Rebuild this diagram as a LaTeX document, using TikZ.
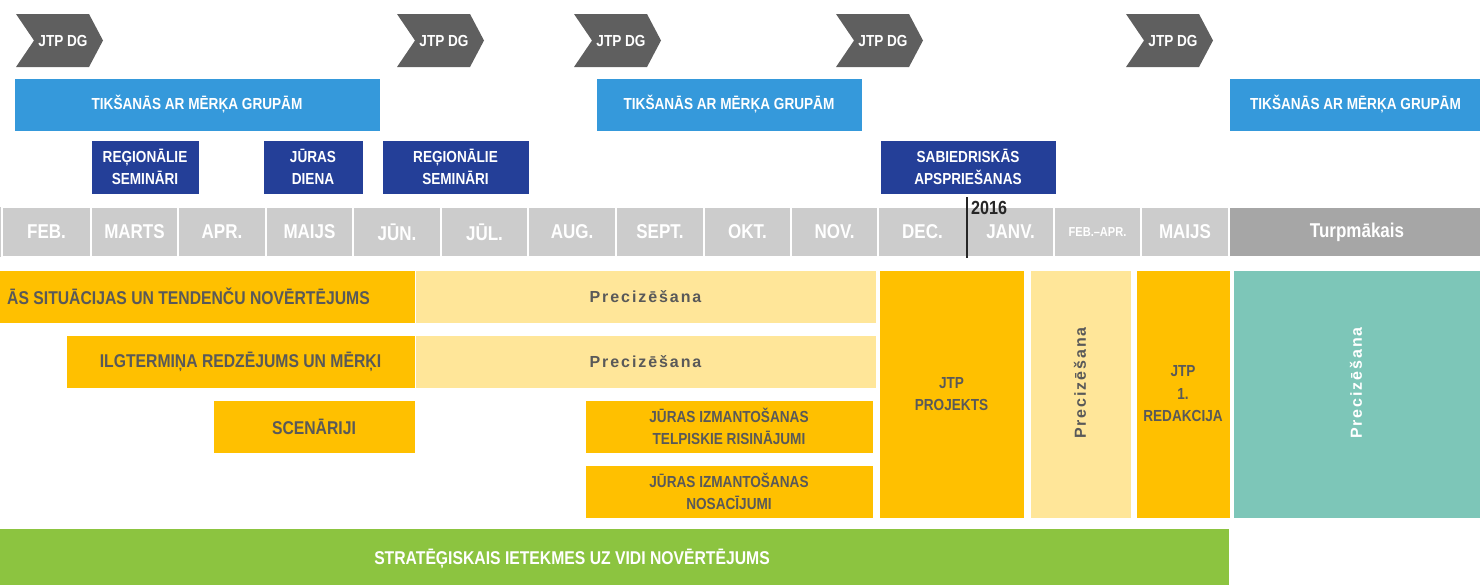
\documentclass[tikz,border=0pt]{standalone}
\usepackage{fontspec}
\setmainfont{Liberation Sans}
\newfontfamily\cnd{Liberation Sans}[FakeStretch=0.85]
\newfontfamily\spc{Liberation Sans}[LetterSpace=12]
\definecolor{chevc}{HTML}{5F5F5F}
\definecolor{lblue}{HTML}{3599DB}
\definecolor{dblue}{HTML}{243F98}
\definecolor{mgray}{HTML}{CCCCCC}
\definecolor{tgray}{HTML}{A6A6A6}
\definecolor{orng}{HTML}{FFC000}
\definecolor{lyel}{HTML}{FFE699}
\definecolor{teal}{HTML}{7DC6B8}
\definecolor{grn}{HTML}{8CC440}
\definecolor{tg}{HTML}{595959}
\tikzset{
  bxs/.style={inner sep=0pt, align=center, draw=white, line width=0.8pt},
  chevt/.style={text=white, font=\cnd\bfseries\fontsize{16}{20}\selectfont},
  tbar/.style={bxs, fill=lblue, text=white, font=\cnd\bfseries\fontsize{16}{20}\selectfont},
  dbox/.style={bxs, fill=dblue, text=white, font=\cnd\bfseries\fontsize{16}{22.5}\selectfont},
  mcell/.style={bxs, fill=mgray, line width=1.5pt, text=white, font=\cnd\bfseries\fontsize{20}{24}\selectfont},
  obox/.style={bxs, fill=orng, text=tg, font=\cnd\bfseries\fontsize{18.5}{22}\selectfont},
  sbox/.style={bxs, fill=orng, text=tg, font=\cnd\bfseries\fontsize{16}{22.5}\selectfont},
  pbox/.style={bxs, fill=lyel, text=tg, font=\spc\bfseries\fontsize{16}{18}\selectfont},
  vtext/.style={rotate=90, font=\spc\bfseries\fontsize{16}{18}\selectfont},
}
\newcommand\bx[7]{%
  \pgfmathsetmacro\bw{#4-#2}\pgfmathsetmacro\bh{#5-#3}%
  \node[#6, minimum width=\bw pt, minimum height=\bh pt] (#1) at ({(#2+#4)/2},{(#3+#5)/2}) {#7};}
\newcommand\chev[2]{%
  \fill[chevc] (#2,14) -- ({#2+73},14) -- ({#2+87},40.5) -- ({#2+73},67) -- (#2,67) -- ({#2+18},40.5) -- cycle;
  \node[chevt] (#1) at ({#2+47},41) {JTP DG};}
\begin{document}
\begin{tikzpicture}[x=1pt,y=-1pt]
\useasboundingbox (0,0) rectangle (1480,584);
% chevrons
\chev{c1}{16}
\chev{c2}{397}
\chev{c3}{574}
\chev{c4}{836}
\chev{c5}{1126}
% target group meetings
\bx{tb1}{14}{78}{380}{131}{tbar}{TIKŠANĀS AR MĒRĶA GRUPĀM}
\bx{tb2}{596}{78}{862}{131}{tbar}{TIKŠANĀS AR MĒRĶA GRUPĀM}
\bx{tb3}{1229}{78}{1482}{131}{tbar}{TIKŠANĀS AR MĒRĶA GRUPĀM}
% dark boxes
\bx{rs1}{91}{140}{199}{194}{dbox}{REĢIONĀLIE\\SEMINĀRI}
\bx{jd}{263}{140}{363}{194}{dbox}{JŪRAS\\DIENA}
\bx{rs2}{382}{140}{529}{194}{dbox}{REĢIONĀLIE\\SEMINĀRI}
\bx{sa}{880}{140}{1056}{194}{dbox}{SABIEDRISKĀS\\APSPRIEŠANAS}
% months
\fill[mgray] (-5,207) rectangle (1.5,257);
\bx{m1}{2}{207}{91}{257}{mcell}{FEB.}
\bx{m2}{91}{207}{178}{257}{mcell}{MARTS}
\bx{m3}{178}{207}{266}{257}{mcell}{APR.}
\bx{m4}{266}{207}{353}{257}{mcell}{MAIJS}
\bx{m5}{353}{207}{441}{257}{mcell}{JŪN.}
\bx{m6}{441}{207}{528}{257}{mcell}{JŪL.}
\bx{m7}{528}{207}{616}{257}{mcell}{AUG.}
\bx{m8}{616}{207}{704}{257}{mcell}{SEPT.}
\bx{m9}{704}{207}{791}{257}{mcell}{OKT.}
\bx{m10}{791}{207}{878}{257}{mcell}{NOV.}
\bx{m11}{878}{207}{967}{257}{mcell}{DEC.}
\bx{m12}{967}{207}{1054}{257}{mcell}{JANV.}
\bx{m13}{1054}{207}{1141}{257}{mcell, font=\cnd\bfseries\fontsize{13}{16}\selectfont}{FEB.–APR.}
\bx{m14}{1141}{207}{1229}{257}{mcell}{MAIJS}
\bx{m15}{1229}{207}{1485}{257}{mcell, fill=tgray}{Turpmākais}
\draw[line width=2pt, black!85] (967,197) coordinate (ya) -- (967,258) coordinate (yb);
\node[anchor=south west, inner sep=0pt, text=black!85, font=\cnd\bfseries\fontsize{19}{20}\selectfont] (y16) at (971,215) {2016};
% rows
\bx{a1}{-5}{270}{415}{323}{obox}{}
\node[anchor=east, inner sep=0pt, text=tg, font=\cnd\bfseries\fontsize{18.5}{22}\selectfont] (l1) at (370,296.5) {ĀS SITUĀCIJAS UN TENDENČU NOVĒRTĒJUMS};
\bx{p1}{415}{270}{876}{323}{pbox}{Precizēšana}
\bx{a2}{66}{335}{415}{388}{obox}{ILGTERMIŅA REDZĒJUMS UN MĒRĶI}
\bx{p2}{415}{335}{876}{388}{pbox}{Precizēšana}
\bx{sc}{213}{400}{415}{453}{obox}{SCENĀRIJI}
\bx{jt}{585}{400}{873}{453}{sbox}{JŪRAS IZMANTOŠANAS\\TELPISKIE RISINĀJUMI}
\bx{jn}{585}{465}{873}{518}{sbox}{JŪRAS IZMANTOŠANAS\\NOSACĪJUMI}
\bx{jp}{879}{270}{1024}{518}{sbox}{JTP\\PROJEKTS}
\bx{pz}{1030}{270}{1131}{518}{pbox}{}
\node[vtext, text=tg] (pzt) at (1080,383) {Precizēšana};
\bx{jr}{1136}{270}{1230}{518}{sbox}{JTP\\1.\\REDAKCIJA}
\bx{tl}{1233}{270}{1485}{518}{bxs, fill=teal}{}
\node[vtext, text=white] (tlt) at (1356,383) {Precizēšana};
\bx{gr}{-85}{528}{1229}{589}{bxs, fill=grn, text=white, font=\cnd\bfseries\fontsize{18.5}{22}\selectfont}{STRATĒĢISKAIS IETEKMES UZ VIDI NOVĒRTĒJUMS}
\end{tikzpicture}
\end{document}
